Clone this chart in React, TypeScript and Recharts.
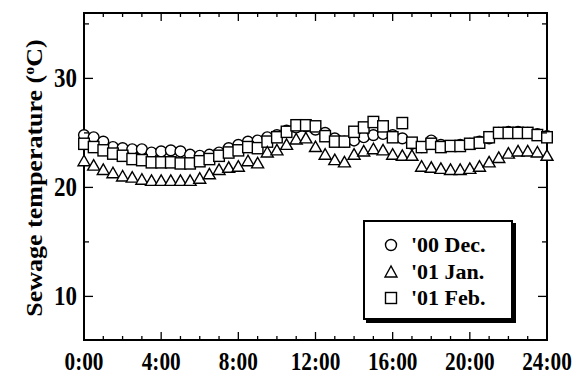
import React from 'react';
import { ScatterChart, Scatter, XAxis, YAxis, Legend, Customized } from 'recharts';

// half-hourly readings, 0:00 -> 24:00
const HOURS = [
    0, 0.5, 1, 1.5, 2, 2.5, 3, 3.5, 4, 4.5, 5, 5.5, 6, 6.5, 7, 7.5, 8, 8.5, 9, 9.5, 10, 10.5, 11, 11.5,
    12, 12.5, 13, 13.5, 14, 14.5, 15, 15.5, 16, 16.5, 17, 17.5, 18, 18.5, 19, 19.5, 20, 20.5, 21, 21.5,
    22, 22.5, 23, 23.5, 24,
];

const DEC_00 = [
    24.8, 24.6, 24.2, 23.7, 23.6, 23.5, 23.5, 23.2, 23.3, 23.4, 23.3, 23.0, 22.9, 23.0, 23.2, 23.6,
    23.9, 24.2, 24.3, 24.6, 24.8, 25.2, 25.5, 25.6, 25.3, 25.0, 24.5, 24.2, 24.3, 24.6, 24.8, 24.9,
    24.8, 24.5, 24.0, 23.7, 24.3, 23.9, 23.8, 23.9, 24.0, 24.2, 24.5, 25.0, 25.1, 25.1, 25.0, 24.9, 24.7,
];

const JAN_01 = [
    22.4, 22.0, 21.6, 21.3, 21.0, 20.9, 20.7, 20.6, 20.6, 20.6, 20.6, 20.6, 20.8, 21.2, 21.6, 21.8,
    21.9, 22.4, 22.2, 23.2, 23.4, 23.9, 24.4, 24.5, 23.7, 23.0, 22.5, 22.3, 23.0, 23.3, 23.5, 23.4,
    23.0, 22.9, 22.9, 21.9, 21.8, 21.7, 21.6, 21.6, 21.7, 21.9, 22.3, 22.7, 23.1, 23.3, 23.3, 23.2, 22.9,
];

const FEB_01 = [
    24.0, 23.7, 23.4, 23.1, 22.9, 22.6, 22.5, 22.3, 22.3, 22.3, 22.2, 22.2, 22.4, 22.6, 22.9, 23.2,
    23.4, 23.7, 23.6, 24.2, 24.6, 25.1, 25.7, 25.7, 25.6, 24.7, 24.2, 24.2, 25.1, 25.5, 26.0, 25.6,
    24.6, 25.9, 24.1, 23.7, 24.0, 23.7, 23.8, 23.8, 24.0, 24.1, 24.6, 25.0, 25.0, 25.0, 25.0, 24.8, 24.6,
];

const X_TICKS = [0, 1, 2, 3, 4, 5, 6, 7, 8, 9, 10, 11, 12, 13, 14, 15, 16, 17, 18, 19, 20, 21, 22, 23, 24];
const Y_TICKS = [10, 15, 20, 25, 30, 35];
const SERIES_NAMES = ["'00 Dec.", "'01 Jan.", "'01 Feb."];

const FONT = '"Liberation Serif", "Times New Roman", serif';
const W = 584;
const H = 377;
const PLOT = { left: 84, top: 13, right: 547, bottom: 340 };
// the original figure is slightly squeezed sideways, text included
const SQUASH = 0.85;

const toRows = (vals: number[]) => HOURS.map((h, i) => ({ time: h, temp: vals[i] }));

const CircleMark = (p: any) => (
    <circle cx={p.cx} cy={p.cy} r={5.4} fill="#fff" stroke="#000" strokeWidth={1.4} />
);
const TriangleMark = (p: any) => (
    <polygon
        points={`${p.cx},${p.cy - 6} ${p.cx - 6},${p.cy + 4.5} ${p.cx + 6},${p.cy + 4.5}`}
        fill="#fff"
        stroke="#000"
        strokeWidth={1.4}
    />
);
const SquareMark = (p: any) => (
    <rect x={p.cx - 5.3} y={p.cy - 5.6} width={10.6} height={11.2} fill="#fff" stroke="#000" strokeWidth={1.4} />
);

const XTick = ({ x, payload }: any) => {
    const major = payload.value % 4 === 0;
    const len = major ? 8 : 4;
    return (
        <g>
            <line x1={x} y1={PLOT.bottom} x2={x} y2={PLOT.bottom - len} stroke="#000" strokeWidth={1.3} />
            <line x1={x} y1={PLOT.top} x2={x} y2={PLOT.top + len} stroke="#000" strokeWidth={1.3} />
            {major && (
                <text
                    transform={`translate(${x}, 370) scale(${SQUASH}, 1)`}
                    textAnchor="middle"
                    fontFamily={FONT}
                    fontWeight="bold"
                    fontSize={25}
                    fill="#000"
                >
                    {`${payload.value}:00`}
                </text>
            )}
        </g>
    );
};

const YTick = ({ y, payload }: any) => {
    const major = payload.value % 10 === 0;
    const len = major ? 9 : 5;
    return (
        <g>
            <line x1={PLOT.left} y1={y} x2={PLOT.left + len} y2={y} stroke="#000" strokeWidth={1.3} />
            <line x1={PLOT.right} y1={y} x2={PLOT.right - len} y2={y} stroke="#000" strokeWidth={1.3} />
            {major && (
                <text
                    transform={`translate(77, ${y + 9}) scale(${SQUASH}, 1)`}
                    textAnchor="end"
                    fontFamily={FONT}
                    fontWeight="bold"
                    fontSize={27}
                    fill="#000"
                >
                    {payload.value}
                </text>
            )}
        </g>
    );
};

const Frame = () => (
    <g>
        <rect
            x={PLOT.left}
            y={PLOT.top}
            width={PLOT.right - PLOT.left}
            height={PLOT.bottom - PLOT.top}
            fill="none"
            stroke="#000"
            strokeWidth={2}
        />
        <text
            transform={`translate(42, 178) scale(${SQUASH}, 1) rotate(-90)`}
            textAnchor="middle"
            fontFamily={FONT}
            fontWeight="bold"
            fontSize={26}
            fill="#000"
        >
            Sewage temperature (<tspan fontSize={16} dy={-10}>o</tspan>
            <tspan dy={10}>C)</tspan>
        </text>
    </g>
);

const LegendIcon = ({ kind }: { kind: number }) => (
    <svg width={16} height={16} style={{ marginRight: 12 }}>
        {kind === 0 && <circle cx={8} cy={8} r={5.5} fill="#fff" stroke="#000" strokeWidth={1.4} />}
        {kind === 1 && <polygon points="8,2 2,13 14,13" fill="#fff" stroke="#000" strokeWidth={1.4} />}
        {kind === 2 && <rect x={2.5} y={2.5} width={11} height={11} fill="#fff" stroke="#000" strokeWidth={1.4} />}
    </svg>
);

const LegendBox = () => (
    <div
        style={{
            border: '2px solid #000',
            boxShadow: '3px 3px 0 #000',
            background: '#fff',
            padding: '10px 0 8px 18px',
            boxSizing: 'border-box',
            width: 150,
            height: 100,
            fontFamily: FONT,
            fontWeight: 'bold',
            fontSize: 22,
        }}
    >
        {SERIES_NAMES.map((name, i) => (
            <div key={name} style={{ display: 'flex', alignItems: 'center', height: 26.5 }}>
                <LegendIcon kind={i} />
                <span>{name}</span>
            </div>
        ))}
    </div>
);

export default function App() {
    return (
        <div style={{ position: 'absolute', left: 0, top: 0, width: W, height: H, background: '#fff' }}>
            <ScatterChart
                width={W}
                height={H}
                margin={{ top: PLOT.top, right: W - PLOT.right, bottom: 0, left: 0 }}
            >
                <XAxis
                    dataKey="time"
                    type="number"
                    domain={[0, 24]}
                    ticks={X_TICKS}
                    interval={0}
                    height={H - PLOT.bottom}
                    axisLine={false}
                    tickLine={false}
                    tickSize={0}
                    tickMargin={0}
                    tick={<XTick />}
                />
                <YAxis
                    dataKey="temp"
                    type="number"
                    domain={[6, 36]}
                    ticks={Y_TICKS}
                    interval={0}
                    width={PLOT.left}
                    axisLine={false}
                    tickLine={false}
                    tickSize={0}
                    tickMargin={0}
                    tick={<YTick />}
                />
                <Customized component={Frame} />
                <Legend
                    layout="vertical"
                    align="center"
                    verticalAlign="middle"
                    content={<LegendBox />}
                    wrapperStyle={{ left: 363, top: 220, width: 150, height: 100 }}
                />
                <Scatter name={SERIES_NAMES[0]} data={toRows(DEC_00)} shape={<CircleMark />} isAnimationActive={false} />
                <Scatter name={SERIES_NAMES[2]} data={toRows(FEB_01)} shape={<SquareMark />} isAnimationActive={false} />
                <Scatter name={SERIES_NAMES[1]} data={toRows(JAN_01)} shape={<TriangleMark />} isAnimationActive={false} />
            </ScatterChart>
        </div>
    );
}
